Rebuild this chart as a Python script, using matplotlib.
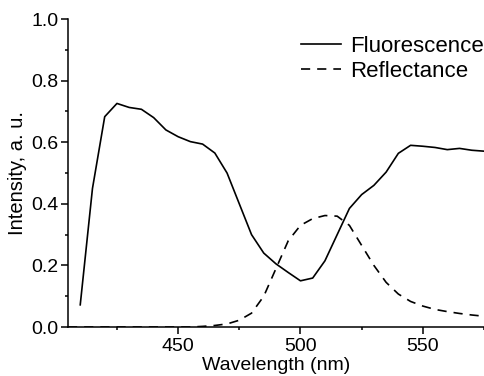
import matplotlib
matplotlib.use('Agg')
import matplotlib.pyplot as plt
from matplotlib.ticker import MultipleLocator, FormatStrFormatter

plt.rcParams['font.family'] = ['Liberation Sans', 'DejaVu Sans']

# fluorescence spectrum
wl_fl = [410, 415, 420, 425, 430, 435, 440, 445, 450, 455, 460, 465, 470, 475,
         480, 485, 490, 495, 500, 505, 510, 515, 520, 525, 530, 535, 540, 545,
         550, 555, 560, 565, 570, 575]
fluor = [0.072, 0.45, 0.683, 0.726, 0.713, 0.707, 0.68, 0.64, 0.618, 0.602, 0.594,
         0.565, 0.50, 0.40, 0.30, 0.24, 0.205, 0.177, 0.150, 0.159, 0.215, 0.30,
         0.385, 0.43, 0.46, 0.503, 0.564, 0.59, 0.587, 0.583, 0.576, 0.58, 0.574, 0.571]

# reflectance spectrum
wl_rf = [405, 420, 440, 455, 460, 465, 470, 475, 480, 485, 490, 495, 500, 505,
         510, 515, 520, 525, 530, 535, 540, 545, 550, 555, 560, 565, 570, 575]
refl = [0.0, 0.0, 0.0, 0.0, 0.002, 0.005, 0.01, 0.022, 0.045, 0.10, 0.19, 0.28,
        0.33, 0.352, 0.362, 0.36, 0.33, 0.265, 0.20, 0.145, 0.107, 0.083, 0.068,
        0.057, 0.05, 0.044, 0.039, 0.035]

fig = plt.figure(figsize=(4.84, 3.76), dpi=100)
ax = fig.add_axes([0.1405, 0.1303, 0.8595, 0.819])

ax.plot(wl_fl, fluor, 'k-', lw=1.2, label='Fluorescence')
ax.plot(wl_rf, refl, 'k--', lw=1.2, dashes=(5.5, 4.2), label='Reflectance')

ax.set_xlim(405, 575)
ax.set_ylim(0, 1.0)
ax.xaxis.set_major_locator(MultipleLocator(50))
ax.xaxis.set_minor_locator(MultipleLocator(25))
ax.yaxis.set_major_locator(MultipleLocator(0.2))
ax.yaxis.set_minor_locator(MultipleLocator(0.1))
ax.yaxis.set_major_formatter(FormatStrFormatter('%.1f'))

for s in ['top', 'right']:
    ax.spines[s].set_visible(False)
for s in ['left', 'bottom']:
    ax.spines[s].set_linewidth(1.1)

ax.tick_params(which='major', direction='out', length=4.7, width=1.1, labelsize=14)
ax.tick_params(axis='x', which='major', pad=3.5)
ax.tick_params(axis='y', which='major', pad=2)
ax.tick_params(which='minor', direction='out', length=2.5, width=1.1)

ax.set_xlabel('Wavelength (nm)', fontsize=14, labelpad=1.5)
ax.set_ylabel('Intensity, a. u.', fontsize=14.5, labelpad=3)

ax.legend(loc='upper right', frameon=False, fontsize=16, handlelength=1.8,
          handletextpad=0.4, borderaxespad=0.0, labelspacing=0.2,
          bbox_to_anchor=(1.02, 0.975))

fig.savefig('out.png', dpi=100)
